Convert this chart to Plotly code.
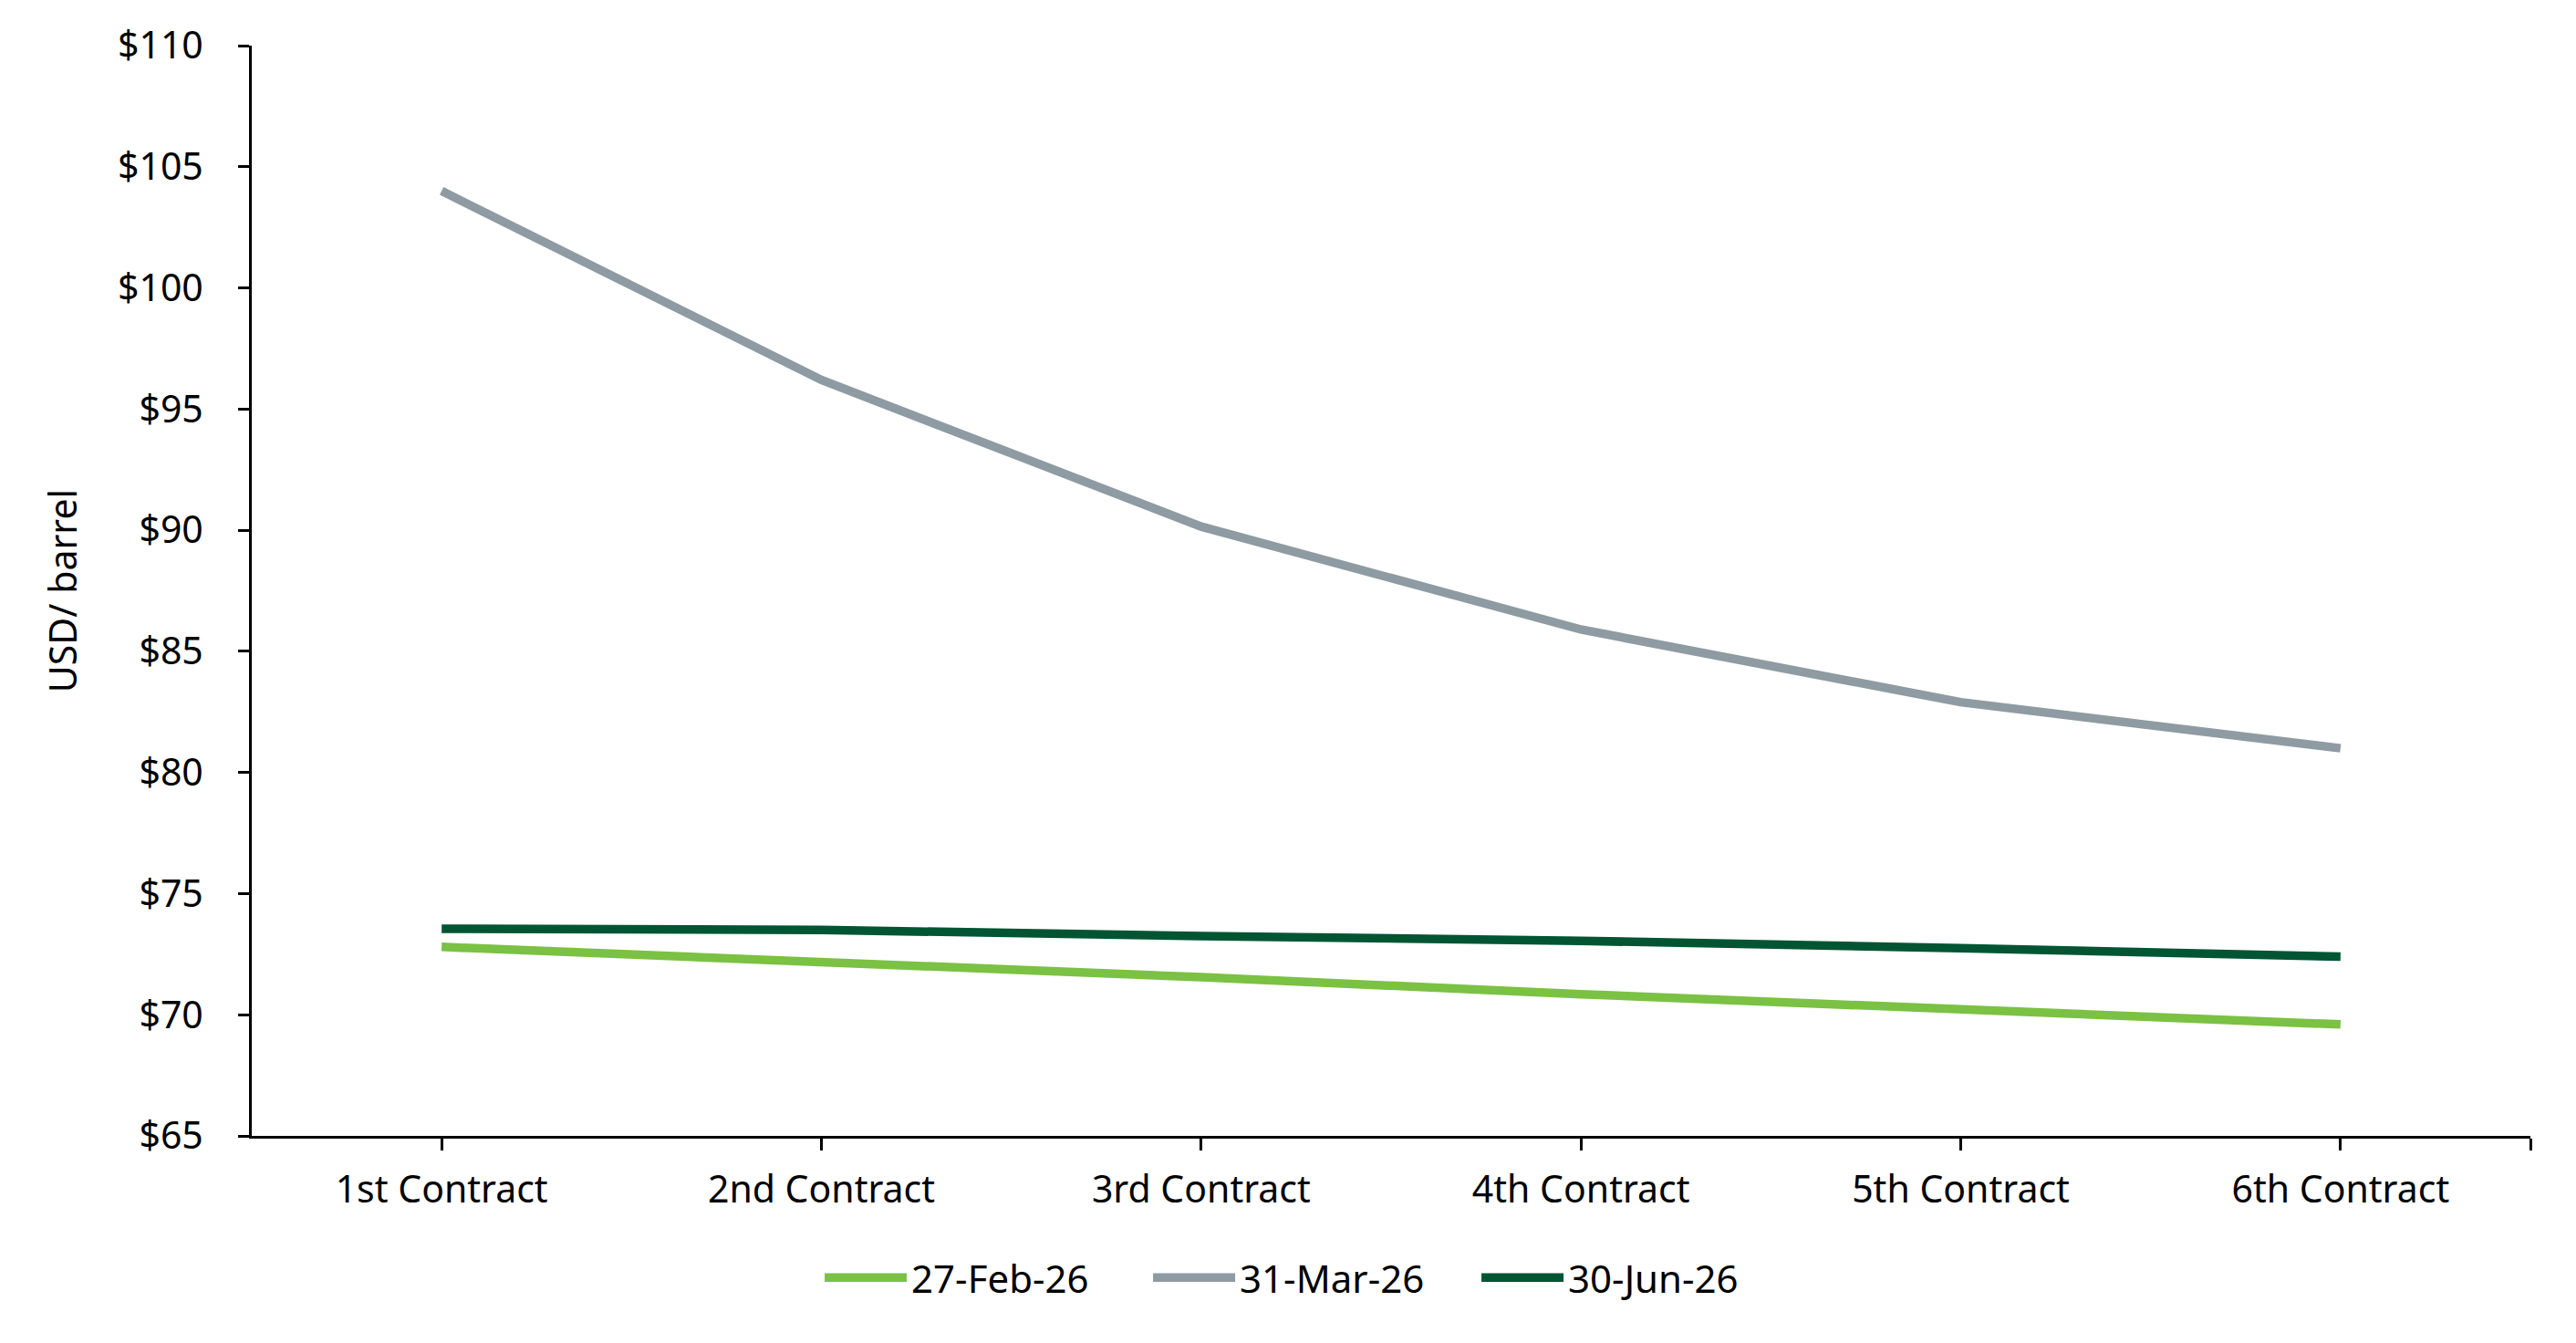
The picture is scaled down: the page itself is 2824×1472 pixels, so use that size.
import plotly.graph_objects as go

categories = ["1st Contract", "2nd Contract", "3rd Contract", "4th Contract", "5th Contract", "6th Contract"]
feb_27 = [72.8, 72.2, 71.55, 70.85, 70.2, 69.6]
mar_31 = [104.0, 96.2, 90.15, 85.9, 82.9, 81.0]
jun_30 = [73.55, 73.5, 73.25, 73.05, 72.75, 72.4]
series_names = ["27-Feb-26", "31-Mar-26", "30-Jun-26"]
y_ticks = [65, 70, 75, 80, 85, 90, 95, 100, 105, 110]

colors = ["#7BC143", "#8E9BA2", "#015533"]
xs = list(range(len(categories)))

fig = go.Figure()
for name, vals, col in zip(series_names, [feb_27, mar_31, jun_30], colors):
    fig.add_trace(go.Scatter(x=xs, y=vals, name=name, mode="lines",
                             line=dict(color=col, width=9.5)))

font_family = "Noto Sans, Open Sans, sans-serif"
fig.update_layout(
    width=2824, height=1472,
    margin=dict(l=276, r=50, t=50, b=227, autoexpand=False),
    paper_bgcolor="white", plot_bgcolor="white",
    font=dict(family=font_family, size=41, color="black"),
    showlegend=True,
    legend=dict(orientation="h", x=0.4656, xanchor="center",
                y=-0.13, yanchor="middle", entrywidth=255, entrywidthmode="pixels",
                font=dict(size=42, family=font_family), itemwidth=90, tracegroupgap=0),
)
fig.update_xaxes(
    range=[-0.5, 5.5], tickmode="array",
    tickvals=xs + [5.5], ticktext=categories + [""],
    showline=True, linecolor="black", linewidth=3,
    ticks="outside", ticklen=13, tickwidth=3, tickcolor="black",
    showgrid=False, zeroline=False, ticklabelstandoff=8, tickangle=0,
    tickfont=dict(size=41), automargin=False,
)
fig.update_yaxes(
    range=[65, 110], tickmode="array", tickvals=y_ticks,
    ticktext=["$" + str(v) for v in y_ticks],
    showline=True, linecolor="black", linewidth=3,
    ticks="outside", ticklen=12, tickwidth=3, tickcolor="black",
    showgrid=False, zeroline=False, ticklabelstandoff=30,
    title=dict(text="USD/ barrel", standoff=32, font=dict(size=41)),
    tickfont=dict(size=41), automargin=False,
)
fig.write_html("out.html")
